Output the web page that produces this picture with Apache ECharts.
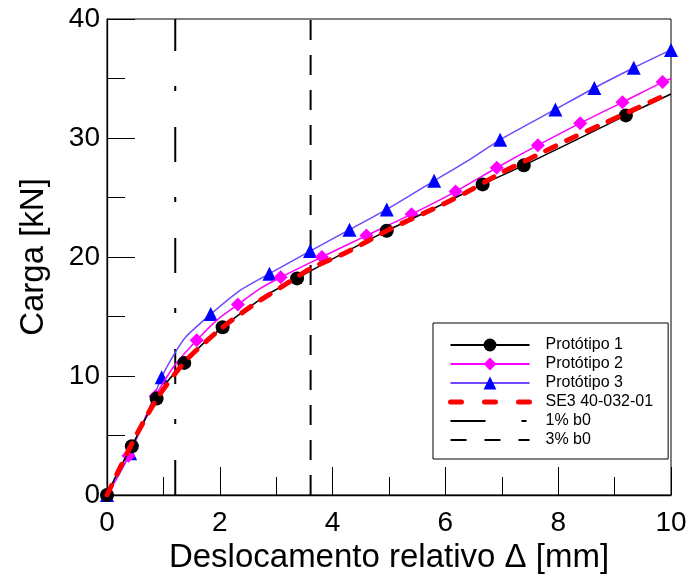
<!DOCTYPE html>
<html>
<head>
<meta charset="utf-8">
<script src="https://cdn.jsdelivr.net/npm/echarts@6/dist/echarts.min.js"></script>
<style>
html,body{margin:0;padding:0;background:#fff;}
#c{width:691px;height:583px;}
</style>
</head>
<body>
<div id="c"></div>
<script>
// ---- data ----
var p1Marks = [[0,0],[0.44,4.1],[0.88,8.1],[1.37,11.1],[2.05,14.1],[3.37,18.2],[4.96,22.2],[6.66,26.1],[7.39,27.7],[9.2,31.9]];
var p1Between = [[0.2,2.0],[0.66,6.2],[1.1,9.7],[1.7,12.7],[2.5,15.7],[2.9,17.0],[4.1,20.1],[5.8,24.1],[8.3,29.8],[10,33.7]];
var p2Marks = [[0,0],[0.38,3.3],[0.86,8.3],[1.59,13.0],[2.32,16.0],[3.08,18.3],[3.81,20.0],[4.6,21.8],[5.4,23.6],[6.18,25.5],[6.91,27.5],[7.64,29.4],[8.39,31.25],[9.14,33.0],[9.85,34.7]];
var p2Between = [[0.18,1.5],[0.62,5.9],[1.2,10.9],[1.95,14.7],[2.7,17.3],[10,35.0]];
var p3Marks = [[0,0],[0.41,3.5],[0.97,9.9],[1.84,15.2],[2.88,18.6],[3.6,20.5],[4.3,22.3],[4.96,24.0],[5.8,26.4],[6.97,29.85],[7.95,32.4],[8.64,34.2],[9.34,35.9],[10,37.4]];
var p3Between = [[0.2,1.6],[0.7,6.7],[1.2,11.9],[1.4,13.3],[2.33,17.1],[6.4,28.1]];
var se3 = [[0,0],[0.45,4.4],[0.9,8.2],[1.4,11.3],[2.0,13.9],[2.6,16.0],[3.2,17.8],[3.6,19.0],[4.25,20.4],[5.0,22.3],[5.9,24.3],[6.4,25.5],[7.0,27.1],[7.6,28.5],[8.2,29.9],[8.8,31.2],[9.3,32.3],[9.9,33.6]];
var b1 = 1.21;   // 1% b0
var b3 = 3.61;   // 3% b0
var yRange = [0, 40];
var seriesNames = ['Protótipo 1','Protótipo 2','Protótipo 3','SE3 40-032-01','1% b0','3% b0'];

function merge(marks, between){
  var all = marks.map(function(p){return {value:p, m:true};})
    .concat(between.map(function(p){return {value:p, m:false};}));
  all.sort(function(a,b){return a.value[0]-b.value[0];});
  return all.map(function(d){ return d.m ? {value:d.value} : {value:d.value, symbol:'none'}; });
}

var FONT = 'Liberation Sans, Arial, sans-serif';
var chart = echarts.init(document.getElementById('c'), null, {renderer:'canvas'});

function axisCommon(){
  return {
    type:'value',
    axisLine:{show:true, lineStyle:{color:'#000', width:1.3}},
    axisTick:{show:true, inside:true, length:28, lineStyle:{color:'#000', width:1}},
    minorTick:{show:true, splitNumber:2, length:18, lineStyle:{color:'#000', width:1}},
    splitLine:{show:false},
    minorSplitLine:{show:false},
    axisLabel:{color:'#000', fontSize:28, fontFamily:FONT, showMinLabel:true, showMaxLabel:true},
    nameLocation:'middle',
    nameTextStyle:{color:'#000', fontSize:33, fontFamily:FONT}
  };
}
var xa = axisCommon();
xa.min=0; xa.max=10; xa.interval=2;
xa.axisLabel.margin=14;
xa.name='Deslocamento relativo Δ [mm]';
xa.nameGap=45;
var ya = axisCommon();
ya.min=yRange[0]; ya.max=yRange[1]; ya.interval=10;
ya.axisLabel.margin=7;
ya.name='Carga [kN]';
ya.nameGap=57;

var hidden = {opacity:0, color:'rgba(0,0,0,0)', borderWidth:0};

var option = {
  backgroundColor:'#fff',
  animation:false,
  grid:{left:107, right:20, top:19, bottom:88, show:true, borderColor:'#000', borderWidth:1, backgroundColor:'transparent'},
  xAxis:xa,
  yAxis:ya,
  legend:{
    data:[
      {name:seriesNames[0]},
      {name:seriesNames[1]},
      {name:seriesNames[2]},
      {name:seriesNames[3], itemStyle:hidden, lineStyle:{color:'#ff0000', width:5, type:[11,23], cap:'round'}},
      {name:seriesNames[4], itemStyle:hidden},
      {name:seriesNames[5], itemStyle:hidden, lineStyle:{color:'#000', width:2, type:[16,18]}}
    ],
    orient:'vertical',
    left:433, top:323,
    itemWidth:79, itemHeight:16, itemGap:3,
    padding:[14,15,11,15],
    borderColor:'#000', borderWidth:1, backgroundColor:'#fff',
    textStyle:{color:'#000', fontSize:16, fontFamily:FONT, padding:[0,0,0,11]},
    selectedMode:false
  },
  series:[
    {name:seriesNames[4], type:'line', symbol:'none', z:1,
     data:[[b1,yRange[0]],[b1,yRange[1]]],
     itemStyle:{color:'#000'},
     lineStyle:{color:'#000', width:2, type:[35,36,5,35]}},
    {name:seriesNames[5], type:'line', symbol:'none', z:1,
     data:[[b3,yRange[0]],[b3,yRange[1]]],
     itemStyle:{color:'#000'},
     lineStyle:{color:'#000', width:2, type:[20,15]}},
    {name:seriesNames[2], type:'line', z:2, smooth:0.25,
     data:merge(p3Marks,p3Between), symbol:'triangle', symbolSize:14,
     itemStyle:{color:'#0000ff'}, lineStyle:{color:'#7048ff', width:1.5}},
    {name:seriesNames[1], type:'line', z:3, smooth:0.25,
     data:merge(p2Marks,p2Between), symbol:'diamond', symbolSize:14,
     itemStyle:{color:'#ff00ff'}, lineStyle:{color:'#ff00ff', width:1.5}},
    {name:seriesNames[0], type:'line', z:4, smooth:0.25,
     data:merge(p1Marks,p1Between), symbol:'circle', symbolSize:14,
     itemStyle:{color:'#000'}, lineStyle:{color:'#000', width:1.5}},
    {name:seriesNames[3], type:'line', z:5, smooth:0.25,
     data:se3, symbol:'none',
     itemStyle:{color:'#ff0000'},
     lineStyle:{color:'#ff0000', width:5, type:[11,12], cap:'round'}}
  ]
};
chart.setOption(option);
</script>
</body>
</html>
